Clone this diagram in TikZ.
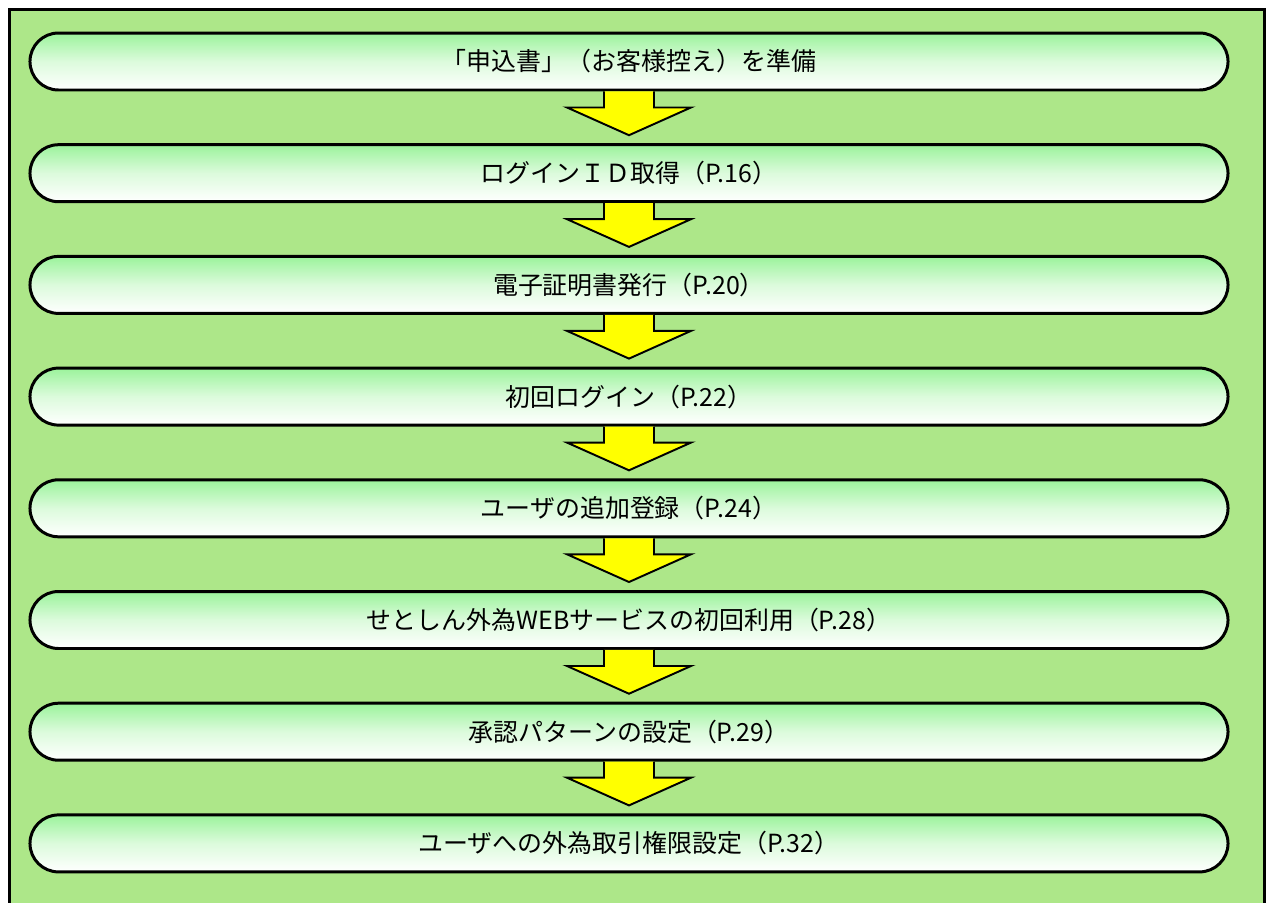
\documentclass[tikz,border=0pt]{standalone}
\usepackage{fontspec}
\newfontfamily\jpfont{Noto Sans CJK JP}
\usetikzlibrary{shapes.misc,calc}

\definecolor{framegreen}{RGB}{173,231,137}
\definecolor{boxgreen}{RGB}{155,243,155}
\definecolor{arrowyellow}{RGB}{255,255,0}

\tikzset{
  stepbox/.style={rounded rectangle, draw=black, line width=1.7pt,
    minimum width=24.2cm, minimum height=1.14cm,
    top color=boxgreen, bottom color=white, middle color=boxgreen!35!white,
    font=\jpfont\fontsize{14.2}{17}\selectfont},
  blockarrow/.style={fill=arrowyellow, draw=black, line width=1.1pt, line join=miter,
    to path={($(\tikztostart)+(-25,0)$) -- ($(\tikztostart)+(-25,16)$)
      -- ($(\tikztostart)+(-62,16)$) -- ($(\tikztotarget)+(0,-8)$)
      -- ($(\tikztostart)+(62,16)$) -- ($(\tikztostart)+(25,16)$)
      -- ($(\tikztostart)+(25,0)$)}}
}

\begin{document}
\begin{tikzpicture}[x=0.02cm, y=-0.02cm]

    \useasboundingbox (0,0) rectangle (1272,903);
    \clip (0,0) rectangle (1272,903);
    \filldraw[fill=framegreen, draw=black, line width=1.7pt] (9.5,9.5) rectangle (1264.5,940);

    \node[stepbox] (s1) at (629,61.5) {「申込書」（お客様控え）を準備};
    \node[stepbox] (s2) at (629,173.2) {ログインＩＤ取得（P.16）};
    \node[stepbox] (s3) at (629,284.9) {電子証明書発行（P.20）};
    \node[stepbox] (s4) at (629,396.6) {初回ログイン（P.22）};
    \node[stepbox] (s5) at (629,508.3) {ユーザの追加登録（P.24）};
    \node[stepbox] (s6) at (629,620.0) {せとしん外為WEBサービスの初回利用（P.28）};
    \node[stepbox] (s7) at (629,731.7) {承認パターンの設定（P.29）};
    \node[stepbox] (s8) at (629,843.4) {ユーザへの外為取引権限設定（P.32）};

    \draw[blockarrow] (s1.south) to (s2.north);
    \draw[blockarrow] (s2.south) to (s3.north);
    \draw[blockarrow] (s3.south) to (s4.north);
    \draw[blockarrow] (s4.south) to (s5.north);
    \draw[blockarrow] (s5.south) to (s6.north);
    \draw[blockarrow] (s6.south) to (s7.north);
    \draw[blockarrow] (s7.south) to (s8.north);

\end{tikzpicture}
\end{document}
